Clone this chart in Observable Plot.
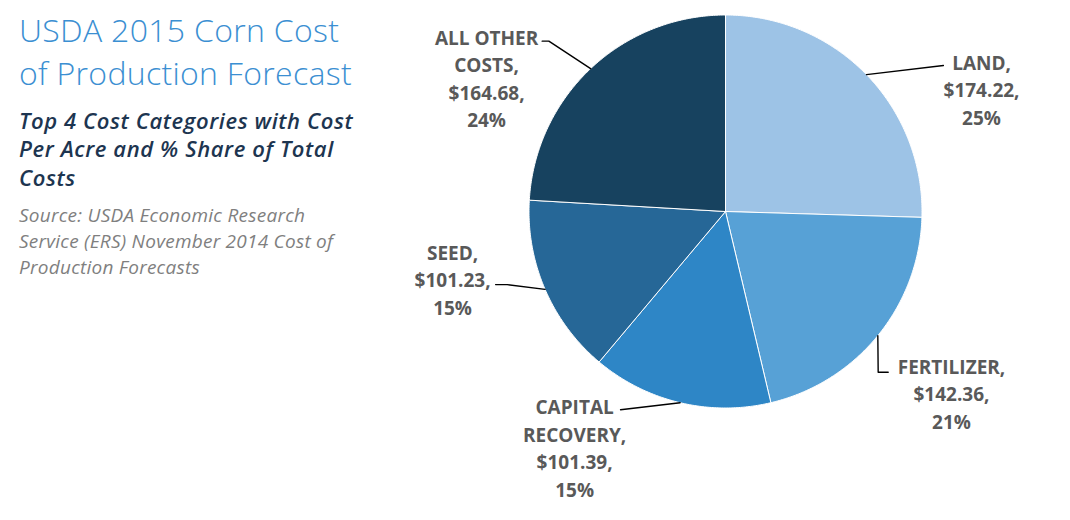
<!DOCTYPE html>
<html>
<head>
<meta charset="utf-8">
<script src="https://cdn.jsdelivr.net/npm/d3@7"></script>
<script src="https://cdn.jsdelivr.net/npm/@observablehq/plot@0.6"></script>
<style>
  html, body { margin: 0; padding: 0; background: #fff; }
  #wrap { position: relative; width: 1070px; height: 520px; overflow: hidden; }
  #chart { position: absolute; left: 0; top: 0; }
  .txt { position: absolute; left: 19px; font-family: "Open Sans", sans-serif; white-space: nowrap; }
  #title { top: 9px; font-size: 32px; line-height: 42.5px; font-weight: 300; color: #3B8FD2; letter-spacing: 0.3px; }
  #subtitle { top: 105.5px; font-size: 22px; line-height: 28.5px; font-weight: 600; font-style: italic; color: #1D3550; letter-spacing: 0.6px; }
  #source { top: 202.3px; font-size: 19px; line-height: 26px; font-style: italic; color: #7F7F7F; letter-spacing: 0.25px; }
</style>
</head>
<body>
<div id="wrap">
  <div id="chart"></div>
  <div id="title" class="txt">USDA 2015 Corn Cost<br>of Production Forecast</div>
  <div id="subtitle" class="txt">Top 4 Cost Categories with Cost<br>Per Acre and % Share of Total<br>Costs</div>
  <div id="source" class="txt">Source: USDA Economic Research<br>Service (ERS) November 2014 Cost of<br>Production Forecasts</div>
</div>
<script>
// ---- data ----
const categories = ["LAND", "FERTILIZER", "CAPITAL RECOVERY", "SEED", "ALL OTHER COSTS"];
const costs = [174.22, 142.36, 101.39, 101.23, 164.68];
const shares = [25, 21, 15, 15, 24];

// ---- styling / layout (not data) ----
const sliceColors = ["#9DC3E6", "#57A1D6", "#2E86C6", "#266797", "#17425F"];
const labelLines = ["LAND", "FERTILIZER", "CAPITAL\nRECOVERY", "SEED", "ALL OTHER\nCOSTS"];
// annotation layout in pie-radius units (pie centre = 0,0; radius = 1)
const labelLayout = [
  {elbow: [1.109, 0.743], end: [1.109, 0.743], text: [1.303, 0.626]},
  {elbow: [0.777, -0.818], end: [0.828, -0.818], text: [1.150, -0.921]},
  {elbow: [-0.534, -1.009], end: [-0.534, -1.009], text: [-0.768, -1.198]},
  {elbow: [-1.111, -0.372], end: [-1.170, -0.372], text: [-1.389, -0.341]},
  {elbow: [-0.899, 0.867], end: [-0.933, 0.867], text: [-1.216, 0.684]}
];
const cx = 725, cy = 211, R = 196.5;

const rows = categories.map((c, i) => ({name: c, cost: costs[i], share: shares[i], i}));
const arcs = d3.pie().sort(null).value(d => d.cost)(rows);

// slice polygons
const poly = [];
for (const a of arcs) {
  poly.push({name: a.data.name, x: 0, y: 0});
  const n = Math.max(2, Math.ceil((a.endAngle - a.startAngle) / (Math.PI / 360)));
  for (let k = 0; k <= n; k++) {
    const t = a.startAngle + (a.endAngle - a.startAngle) * k / n;
    poly.push({name: a.data.name, x: Math.sin(t), y: Math.cos(t)});
  }
  poly.push({name: a.data.name, x: 0, y: 0});
}

// leader lines and labels
const leaders = [];
const labels = [];
for (const a of arcs) {
  const i = a.data.i, L = labelLayout[i];
  const m = (a.startAngle + a.endAngle) / 2;
  leaders.push({name: a.data.name, x: Math.sin(m), y: Math.cos(m)});
  leaders.push({name: a.data.name, x: L.elbow[0], y: L.elbow[1]});
  leaders.push({name: a.data.name, x: L.end[0], y: L.end[1]});
  labels.push({
    x: L.text[0], y: L.text[1],
    text: labelLines[i] + ",\n$" + a.data.cost.toFixed(2) + ",\n" + a.data.share + "%"
  });
}

const chart = Plot.plot({
  width: 1070,
  height: 520,
  margin: 0,
  x: {domain: [-1, 1], range: [cx - R, cx + R], axis: null},
  y: {domain: [-1, 1], range: [cy + R, cy - R], axis: null},
  color: {domain: categories, range: sliceColors},
  style: {background: "transparent", overflow: "visible"},
  marks: [
    Plot.line(poly, {x: "x", y: "y", z: "name", fill: "name", stroke: "white", strokeWidth: 1, strokeLinejoin: "round"}),
    Plot.line(leaders, {x: "x", y: "y", z: "name", stroke: "black", strokeWidth: 1.4}),
    Plot.text(labels, {
      x: "x", y: "y", text: "text",
      fontFamily: "Open Sans", fontSize: 19, fontWeight: "bold",
      fill: "#595959", textAnchor: "middle", lineAnchor: "middle", lineHeight: 1.45
    })
  ]
});
document.getElementById("chart").appendChild(chart);
</script>
</body>
</html>
